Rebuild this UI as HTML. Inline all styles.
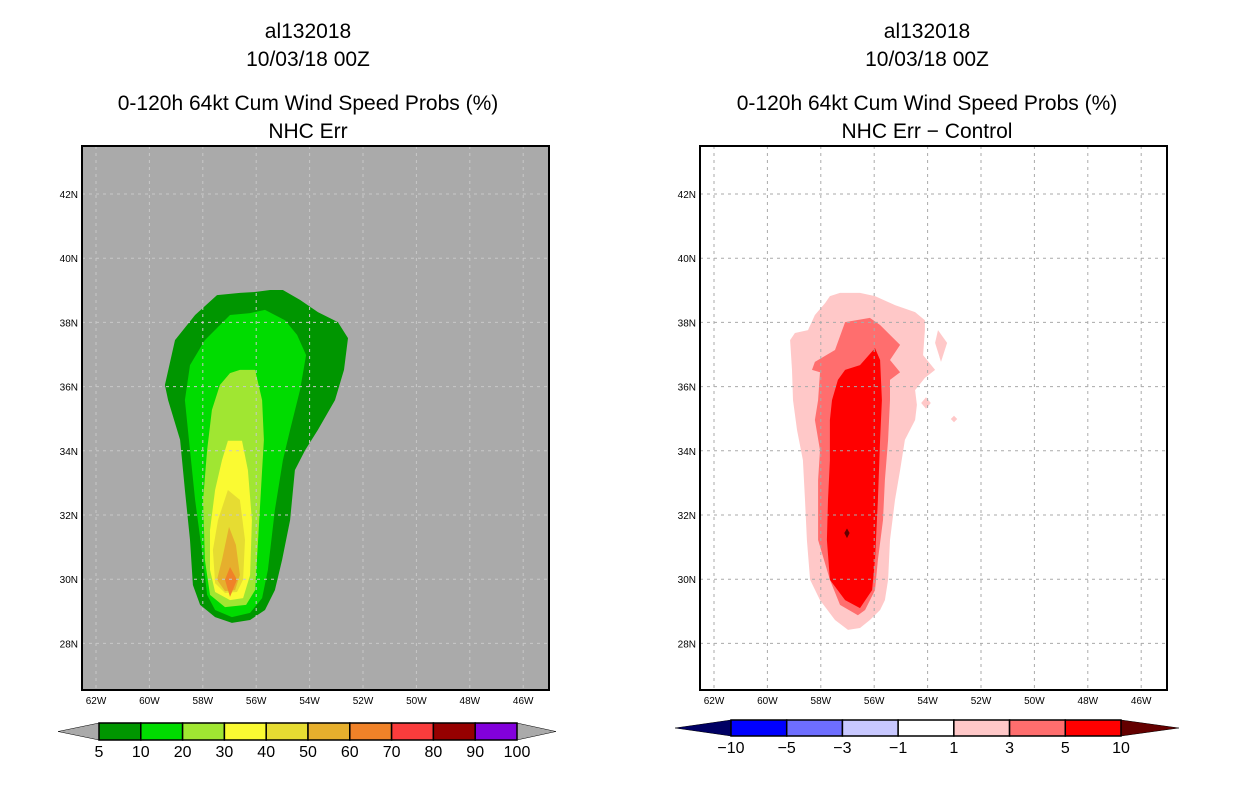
<!DOCTYPE html>
<html><head><meta charset="utf-8"><style>
html,body{margin:0;padding:0;background:#fff;}
svg{display:block;font-family:"Liberation Sans",sans-serif;}
</style></head><body>
<svg id="fig" width="1236" height="800" viewBox="0 0 1236 800" xmlns="http://www.w3.org/2000/svg">
<g font-size="21" text-anchor="middle" fill="#000">
<text x="308" y="38">al132018</text>
<text x="308" y="66">10/03/18 00Z</text>
<text x="308" y="110">0-120h 64kt Cum Wind Speed Probs (%)</text>
<text x="308" y="138">NHC Err</text>
<text x="927" y="38">al132018</text>
<text x="927" y="66">10/03/18 00Z</text>
<text x="927" y="110">0-120h 64kt Cum Wind Speed Probs (%)</text>
<text x="927" y="138">NHC Err − Control</text>
</g>
<g id="left"></g>
<g id="right"></g>
<g id="cbars"></g>
</svg>
<script>
const NS="http://www.w3.org/2000/svg";
const lonTicks=[-62,-60,-58,-56,-54,-52,-50,-48,-46];
const latTicks=[28,30,32,34,36,38,40,42];
const leftLevels=[5,10,20,30,40,50,60];
const leftColors=["#009600","#00dc00","#a0e632","#fafa32","#e6dc32","#e6af2d","#f08228"];
const leftPolys=[
[[-57.47,38.85],[-56.61,38.92],[-56.01,38.95],[-55.48,39.01],[-55.0,39.01],[-54.36,38.70],[-53.69,38.32],[-52.94,38.01],[-52.56,37.51],[-52.71,36.52],[-53.05,35.58],[-53.69,34.65],[-54.17,34.02],[-54.55,33.40],[-54.73,31.84],[-55.03,30.60],[-55.30,29.66],[-55.67,29.04],[-56.23,28.73],[-56.91,28.64],[-57.54,28.82],[-58.10,29.20],[-58.37,29.82],[-58.48,31.22],[-58.67,32.78],[-58.85,34.34],[-59.30,35.58],[-59.42,36.05],[-59.04,37.45],[-58.29,38.23]],
[[-56.98,38.23],[-56.23,38.29],[-55.67,38.39],[-54.92,38.07],[-54.47,37.61],[-54.13,36.98],[-54.36,35.89],[-54.73,34.65],[-55.0,33.71],[-55.30,32.16],[-55.56,30.29],[-55.78,29.41],[-56.23,28.95],[-56.91,28.82],[-57.54,29.04],[-57.84,29.51],[-57.99,30.60],[-58.29,32.47],[-58.48,34.02],[-58.67,35.58],[-58.48,36.67],[-57.92,37.45]],
[[-56.98,36.42],[-56.61,36.52],[-56.04,36.52],[-55.78,35.58],[-55.71,34.34],[-55.78,33.40],[-55.93,31.22],[-56.04,29.66],[-56.38,29.20],[-57.17,29.13],[-57.73,29.51],[-57.92,30.60],[-57.99,32.47],[-57.84,34.02],[-57.66,35.27],[-57.36,36.05]],
[[-57.06,34.31],[-56.53,34.31],[-56.31,33.40],[-56.16,31.84],[-56.23,30.13],[-56.49,29.41],[-56.98,29.35],[-57.54,29.60],[-57.73,30.29],[-57.73,31.53],[-57.54,32.78],[-57.28,33.71]],
[[-57.06,32.78],[-56.61,32.47],[-56.42,31.22],[-56.49,29.98],[-56.72,29.60],[-57.17,29.57],[-57.54,29.88],[-57.62,30.91],[-57.43,31.84]],
[[-57.02,31.63],[-56.76,31.07],[-56.61,30.13],[-56.79,29.66],[-57.17,29.63],[-57.47,29.98],[-57.28,30.60]],
[[-56.98,30.38],[-56.72,29.98],[-56.98,29.45],[-57.17,29.98]]
];
const rightLevels=[1,3,5,10];
const rightColors=["#ffc8c8","#ff6e6e","#ff0000","#640000"];
const rightPolys=[
[[[-57.66,38.82],[-57.28,38.92],[-56.53,38.92],[-55.97,38.82],[-55.22,38.54],[-54.47,38.32],[-54.10,38.07],[-54.10,37.76],[-54.17,36.98],[-53.72,36.52],[-54.10,36.27],[-54.47,35.89],[-54.40,35.43],[-54.47,34.96],[-54.85,34.34],[-55.03,33.40],[-55.22,32.47],[-55.41,31.22],[-55.48,29.98],[-55.60,29.35],[-55.78,29.04],[-56.16,28.73],[-56.53,28.48],[-56.98,28.42],[-57.47,28.73],[-58.03,29.35],[-58.40,29.98],[-58.52,31.22],[-58.59,32.47],[-58.67,33.71],[-58.89,34.65],[-59.04,35.58],[-59.08,36.52],[-59.15,37.45],[-58.97,37.67],[-58.48,37.76],[-58.22,38.23],[-57.84,38.60]],
 [[-53.61,37.76],[-53.27,37.36],[-53.50,36.77],[-53.72,37.36]],
 [[-54.06,35.67],[-53.88,35.49],[-54.06,35.31],[-54.24,35.49]],
 [[-53.01,35.09],[-52.89,34.99],[-53.01,34.89],[-53.13,34.99]]],
[[[-57.09,38.01],[-56.16,38.14],[-55.78,37.92],[-55.03,37.30],[-55.41,36.83],[-55.03,36.45],[-55.41,36.21],[-55.41,35.58],[-55.48,34.34],[-55.60,33.09],[-55.67,31.84],[-55.86,30.60],[-55.97,29.66],[-56.34,29.04],[-56.61,28.88],[-57.28,29.20],[-57.66,29.98],[-58.10,31.22],[-58.10,33.09],[-58.03,34.02],[-58.22,34.96],[-58.10,35.58],[-58.03,36.45],[-58.33,36.52],[-58.22,36.77],[-57.47,37.14]]],
[[[-55.97,37.20],[-55.78,36.83],[-55.71,35.58],[-55.78,34.34],[-55.86,32.47],[-55.97,30.60],[-56.08,29.66],[-56.53,29.10],[-57.09,29.35],[-57.66,29.98],[-57.77,31.22],[-57.73,32.47],[-57.66,33.71],[-57.66,34.96],[-57.58,35.58],[-57.36,36.21],[-57.09,36.52],[-56.53,36.67]]],
[[[-57.02,31.58],[-56.92,31.44],[-57.02,31.28],[-57.12,31.44]]]
];
const leftBarLabels=["5","10","20","30","40","50","60","70","80","90","100"];
const leftBarColors=["#009600","#00dc00","#a0e632","#fafa32","#e6dc32","#e6af2d","#f08228","#fa3c3c","#960000","#8200dc"];
const rightBarLabels=["−10","−5","−3","−1","1","3","5","10"];
const rightBarColors=["#0000ff","#6e6eff","#c8c8ff","#ffffff","#ffc8c8","#ff6e6e","#ff0000"];

function mk(tag,attrs,parent){const e=document.createElementNS(NS,tag);for(const k in attrs)e.setAttribute(k,attrs[k]);parent.appendChild(e);return e;}
function panel(gid,x0,bg,grid,levels,colors,polys,nameP){
  const g=document.getElementById(gid);
  const X=lon=>x0+14+(lon+62)*26.7;
  const Y=lat=>194+(42-lat)*32.1;
  const bgr=mk('rect',{x:x0,y:146,width:467,height:544,fill:bg},g);
  
  
  const cp=mk('clipPath',{id:gid+'clip'},g);mk('rect',{x:x0,y:146,width:467,height:544},cp);
  const cg=mk('g',{'clip-path':'url(#'+gid+'clip)'},g);
  polys.forEach((lvl,i)=>{
    const list=Array.isArray(lvl[0][0])?lvl:[lvl];
    list.forEach(poly=>{
      const p=mk('polygon',{points:poly.map(q=>X(q[0]).toFixed(1)+','+Y(q[1]).toFixed(1)).join(' '),fill:colors[i]},cg);
      
      
    });
  });
  lonTicks.forEach(l=>{
    const ln=mk('line',{x1:X(l),x2:X(l),y1:146,y2:690,stroke:grid,'stroke-width':1,'stroke-dasharray':'3,4'},cg);
    
    
    const t=mk('text',{x:X(l),y:704,'font-size':10,'text-anchor':'middle'},g);
    t.textContent=(-l)+'W';
    
    
  });
  latTicks.forEach(l=>{
    const ln=mk('line',{x1:x0,x2:x0+467,y1:Y(l),y2:Y(l),stroke:grid,'stroke-width':1,'stroke-dasharray':'3,4'},cg);
    
    
    const t=mk('text',{x:x0-4,y:Y(l)+4,'font-size':10,'text-anchor':'end'},g);
    t.textContent=l+'N';
    
    
  });
  const fr=mk('rect',{x:x0,y:146,width:467,height:544,fill:'none',stroke:'#000','stroke-width':2},g);
  
  
}
panel('left',82,'#aaaaaa','#c8c8c8',leftLevels,leftColors,leftPolys,'left');
panel('right',700,'#ffffff','#aaaaaa',rightLevels,rightColors,rightPolys,'right');

function cbar(x0,x1,y0,y1,tl,tr,cols,labels,leftTip,rightTip,nameP){
  const g=document.getElementById('cbars');
  const n=cols.length,w=(x1-x0)/n,ym=(y0+y1)/2;
  const a=mk('polygon',{points:`${tl},${ym} ${x0},${y0} ${x0},${y1}`,fill:leftTip,stroke:'#000','stroke-width':0.5},g);
  
  
  const b=mk('polygon',{points:`${tr},${ym} ${x1},${y0} ${x1},${y1}`,fill:rightTip,stroke:'#000','stroke-width':0.5},g);
  
  
  cols.forEach((c,i)=>{
    const r=mk('rect',{x:x0+i*w,y:y0,width:w,height:y1-y0,fill:c,stroke:'#000','stroke-width':1.5},g);
    
    
  });
  const off=(labels.length===n+1)?0:1;
  labels.forEach((s,i)=>{
    const t=mk('text',{x:x0+(i+off)*w,y:y1+17,'font-size':16,'text-anchor':'middle'},g);
    t.textContent=s;
    
    
  });
}
cbar(99,517,723,740,58,556,leftBarColors,leftBarLabels,'#aaaaaa','#aaaaaa','left');
cbar(731,1121,720,736,675,1179,rightBarColors,rightBarLabels,'#000064','#640000','right');
</script>
</body></html>
